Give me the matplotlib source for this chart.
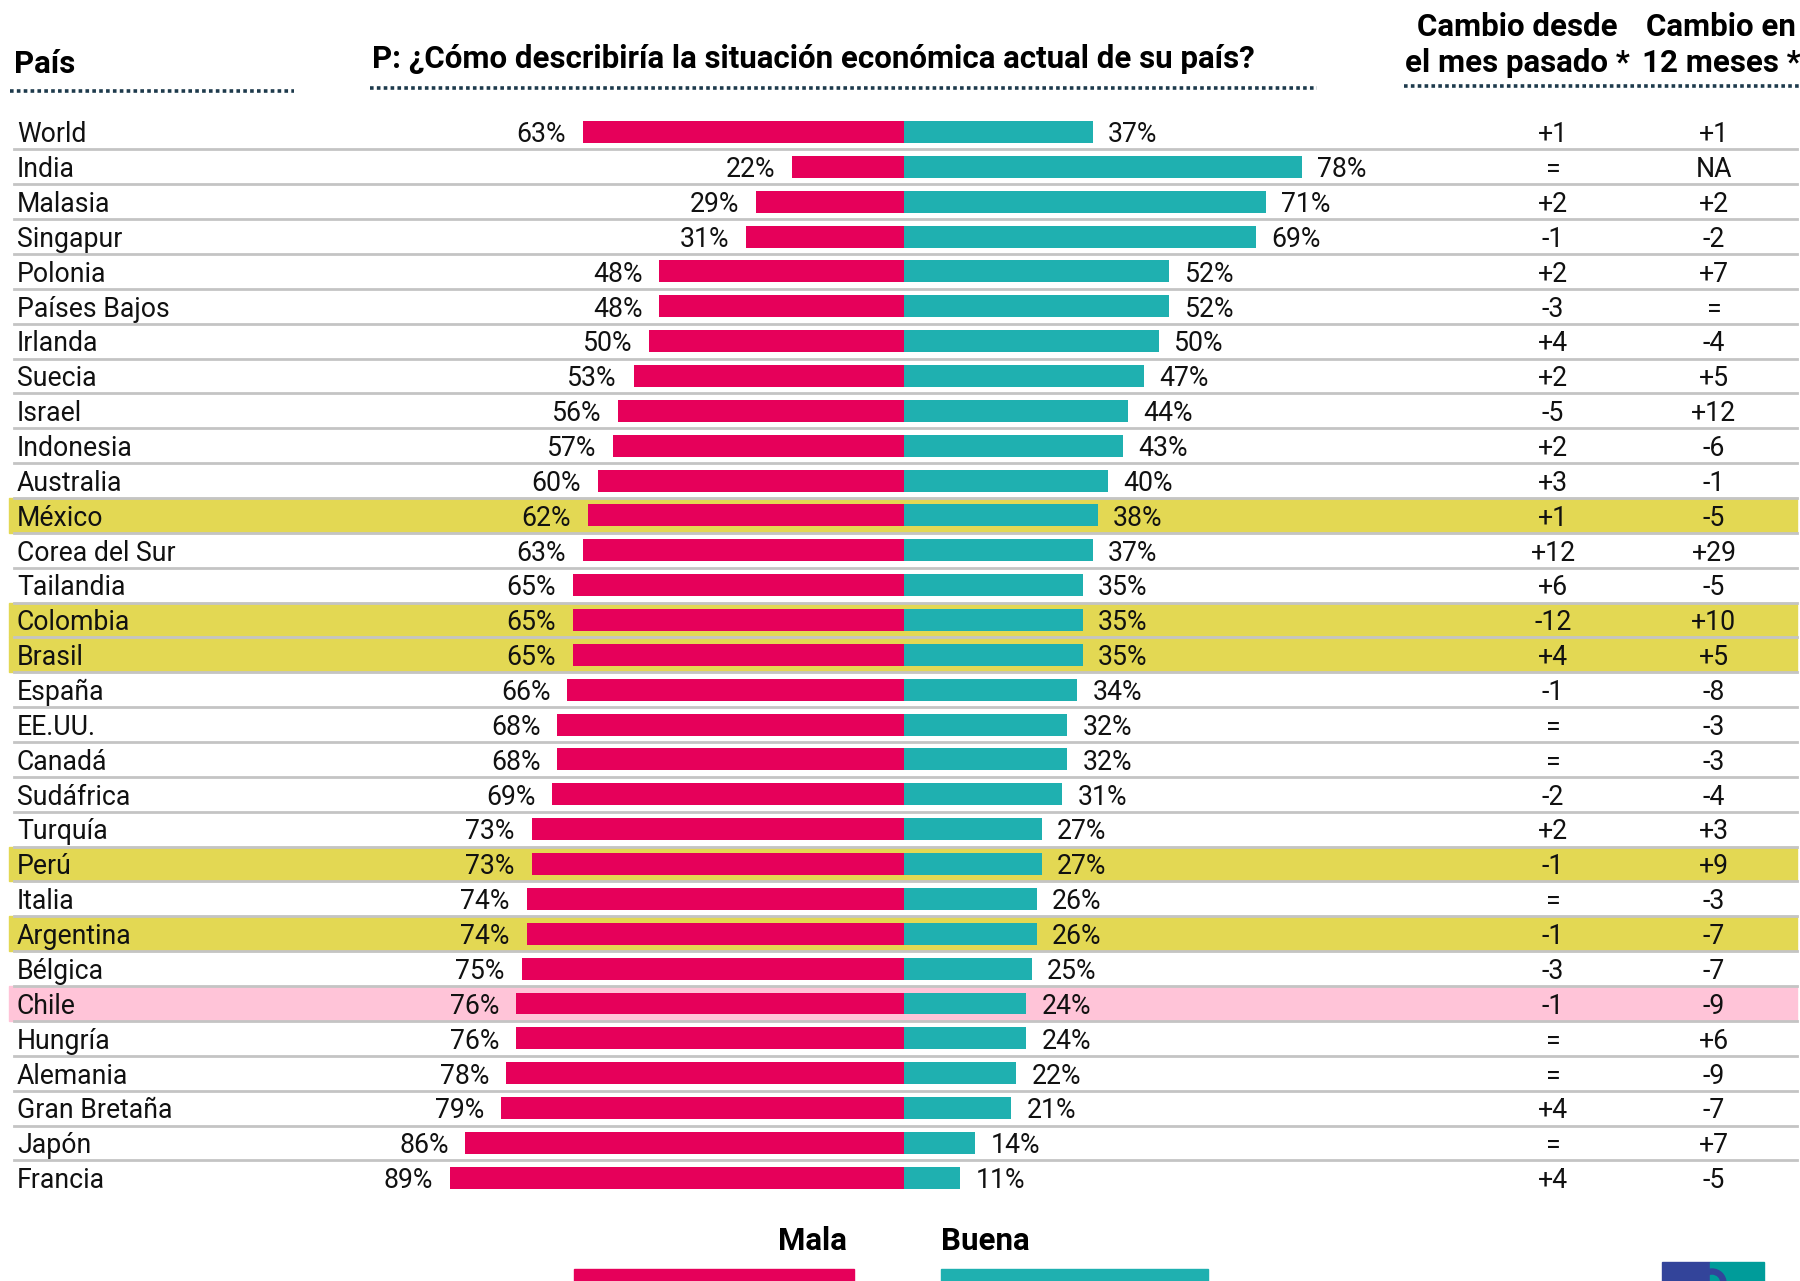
import matplotlib
matplotlib.use("Agg")
import matplotlib.pyplot as plt
from matplotlib.patches import Rectangle, Wedge

# datos
paises = ["World", "India", "Malasia", "Singapur", "Polonia", "Países Bajos", "Irlanda",
          "Suecia", "Israel", "Indonesia", "Australia", "México", "Corea del Sur", "Tailandia",
          "Colombia", "Brasil", "España", "EE.UU.", "Canadá", "Sudáfrica", "Turquía", "Perú",
          "Italia", "Argentina", "Bélgica", "Chile", "Hungría", "Alemania", "Gran Bretaña",
          "Japón", "Francia"]
mala = [63, 22, 29, 31, 48, 48, 50, 53, 56, 57, 60, 62, 63, 65, 65, 65, 66, 68, 68, 69,
        73, 73, 74, 74, 75, 76, 76, 78, 79, 86, 89]
buena = [37, 78, 71, 69, 52, 52, 50, 47, 44, 43, 40, 38, 37, 35, 35, 35, 34, 32, 32, 31,
         27, 27, 26, 26, 25, 24, 24, 22, 21, 14, 11]
cambio_mes = ["+1", "=", "+2", "-1", "+2", "-3", "+4", "+2", "-5", "+2", "+3", "+1", "+12",
              "+6", "-12", "+4", "-1", "=", "=", "-2", "+2", "-1", "=", "-1", "-3", "-1",
              "=", "=", "+4", "=", "+4"]
cambio_12 = ["+1", "NA", "+2", "-2", "+7", "=", "-4", "+5", "+12", "-6", "-1", "-5", "+29",
             "-5", "+10", "+5", "-8", "-3", "-3", "-4", "+3", "+9", "-3", "-7", "-7", "-9",
             "+6", "-9", "-7", "+7", "-5"]
amarillos = ["México", "Colombia", "Brasil", "Perú", "Argentina"]
rosados = ["Chile"]

PINK = "#e6005a"
TEAL = "#1fb0b0"
YELLOW = "#e3d853"
LIGHTPINK = "#ffc4d8"
GRAY = "#c4c4c4"
NAVY = "#1d3a4c"

plt.rcParams['font.family'] = ['Roboto', 'DejaVu Sans']

W, H = 1800, 1281
fig = plt.figure(figsize=(W / 100, H / 100), dpi=100)
ax = fig.add_axes([0, 0, 1, 1])

# escalas: 0 en x=904 px, 5.1 px por punto; fila 0 en y=132 px, 34.86 px por fila
px_pct = 5.1
x0 = 904
pitch = 34.86
y0 = 132
ax.set_xlim(-x0 / px_pct, (W - x0) / px_pct)
ax.set_ylim((H - y0) / pitch, -y0 / pitch)
ax.axis("off")

ytr = ax.get_yaxis_transform()
n = len(paises)
filas = list(range(n))

for i, p in enumerate(paises):
    if p in amarillos:
        ax.axhspan(i - 0.5, i + 0.5, xmin=9 / W, xmax=1797 / W, color=YELLOW, zorder=0)
    elif p in rosados:
        ax.axhspan(i - 0.5, i + 0.5, xmin=9 / W, xmax=1797 / W, color=LIGHTPINK, zorder=0)

for i in range(n - 1):
    ax.axhline(i + 0.5, xmin=14 / W, xmax=1797 / W, color=GRAY, lw=2, zorder=1)

ax.barh(filas, [-m for m in mala], height=0.63, color=PINK, zorder=2)
ax.barh(filas, buena, height=0.63, color=TEAL, zorder=2)

fs = 19.2
dy = 0.08  # el texto queda un poco más abajo que el centro de la barra
for i in filas:
    yt = i + dy
    ax.text(17 / W, yt, paises[i], transform=ytr, fontsize=fs, va="center", ha="left", color="#111111")
    ax.text(-mala[i] - 3.3, yt, f"{mala[i]}%", fontsize=fs, va="center", ha="right", color="#111111")
    ax.text(buena[i] + 3.0, yt, f"{buena[i]}%", fontsize=fs, va="center", ha="left", color="#111111")
    ax.text(1553 / W, yt, cambio_mes[i], transform=ytr, fontsize=fs, va="center", ha="center", color="#111111")
    ax.text(1714 / W, yt, cambio_12[i], transform=ytr, fontsize=fs, va="center", ha="center", color="#111111")

# encabezados
hfs = 22.5
fig.text(14 / W, 1 - 64 / H, "País", fontsize=hfs, fontweight="bold", va="center", ha="left")
fig.text(372 / W, 1 - 59 / H, "P: ¿Cómo describiría la situación económica actual de su país?",
         fontsize=hfs, fontweight="bold", va="center", ha="left")
fig.text(1517 / W, 1 - 27 / H, "Cambio desde", fontsize=hfs, fontweight="bold", va="center", ha="center")
fig.text(1517 / W, 1 - 63 / H, "el mes pasado *", fontsize=hfs, fontweight="bold", va="center", ha="center")
fig.text(1721 / W, 1 - 27 / H, "Cambio en", fontsize=hfs, fontweight="bold", va="center", ha="center")
fig.text(1721 / W, 1 - 63 / H, "12 meses *", fontsize=hfs, fontweight="bold", va="center", ha="center")

for xa, xb, yy in [(10, 294, 91), (370, 1317, 88), (1404, 1800, 86)]:
    fig.add_artist(plt.Line2D([xa / W, xb / W], [1 - yy / H, 1 - yy / H], color=NAVY,
                              lw=2.6, linestyle=(0, (1.0, 0.9))))

# leyenda
fig.text(847 / W, 1 - 1241 / H, "Mala", fontsize=hfs, fontweight="bold", va="center", ha="right")
fig.text(941 / W, 1 - 1241 / H, "Buena", fontsize=hfs, fontweight="bold", va="center", ha="left")
fig.add_artist(Rectangle((574 / W, 0), 280 / W, 12 / H, color=PINK, transform=fig.transFigure))
fig.add_artist(Rectangle((941 / W, 0), 267 / W, 12 / H, color=TEAL, transform=fig.transFigure))

# logo
fig.add_artist(Rectangle((1662 / W, 0), 48 / W, 19 / H, color="#33449a", transform=fig.transFigure))
fig.add_artist(Rectangle((1710 / W, 0), 54 / W, 19 / H, color="#009c9a", transform=fig.transFigure))
fig.add_artist(Wedge((1712, -2), 14, 0, 180, width=5, color="#33449a",
                     transform=None))

fig.savefig("out.png", dpi=100)
